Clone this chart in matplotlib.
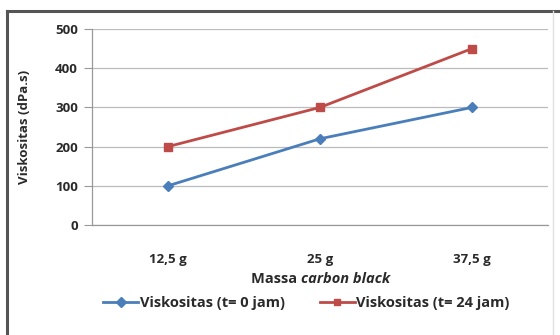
import matplotlib
matplotlib.use("Agg")
import matplotlib.pyplot as plt
from matplotlib.lines import Line2D

categories = ["12,5 g", "25 g", "37,5 g"]
visc_t0 = [100, 220, 300]
visc_t24 = [200, 300, 450]
y_ticks = [0, 100, 200, 300, 400, 500]

plt.rcParams['font.family'] = ['Open Sans', 'DejaVu Sans']

fig = plt.figure(figsize=(5.6, 3.35), dpi=100)
ax = fig.add_axes([92/560, 1-225/335, (548-92)/560, (225-29)/335])

x = list(range(len(categories)))
blue = '#4A7EBB'
red = '#BE4B48'
tc = '#2a2a2a'
ax.plot(x, visc_t0, color=blue, lw=2, marker='D', ms=5.5, label='Viskositas (t= 0 jam)', zorder=3)
ax.plot(x, visc_t24, color=red, lw=2, marker='s', ms=5.5, label='Viskositas (t= 24 jam)', zorder=3)

ax.set_xlim(-0.5, len(categories) - 0.5)
ax.set_ylim(0, 500)
ax.set_yticks(y_ticks)
ax.set_yticklabels([str(v) for v in y_ticks], fontsize=9.5, fontweight='bold', color=tc)
ax.set_xticks(x)
ax.set_xticklabels(categories, fontsize=9.5, fontweight='bold', color=tc)
ax.tick_params(axis='x', length=0, pad=20)
ax.tick_params(axis='y', length=6, color='#999999', width=0.8, pad=4)
ax.grid(axis='y', color='#BBBBBB', lw=0.9)
ax.set_axisbelow(True)
for s in ['top', 'right']:
    ax.spines[s].set_visible(False)
for s in ['left', 'bottom']:
    ax.spines[s].set_color('#999999')
    ax.spines[s].set_linewidth(0.9)

ax.set_ylabel('Viskositas (dPa.s)', fontsize=9.5, fontweight='bold', color=tc)
ax.yaxis.set_label_coords(31/560, 1-127/335, transform=fig.transFigure)
fig.text(0.538, 1-279/335, 'Massa ', fontsize=10.5, fontweight='bold', ha='right', va='center', color=tc)
fig.text(0.538, 1-279/335, 'carbon black', fontsize=10.5, fontweight='bold', style='italic', ha='left', va='center', color=tc)

handles = [Line2D([], [], color=blue, lw=2, marker='D', ms=5),
           Line2D([], [], color=red, lw=2, marker='s', ms=5)]
fig.legend(handles, ['Viskositas (t= 0 jam)', 'Viskositas (t= 24 jam)'], loc='center',
           bbox_to_anchor=(0.547, 1-303/335), ncol=2, frameon=False,
           prop={'weight': 'bold', 'size': 10.5}, handlelength=2.4, columnspacing=2.4, handletextpad=0.1,
           labelcolor=tc)

# outer frame
fig.add_artist(Line2D([7/560, 7/560], [0, 1-11/335], color='#555555', lw=2.2, transform=fig.transFigure))
fig.add_artist(Line2D([7/560, 1], [1-11/335, 1-11/335], color='#555555', lw=2.2, transform=fig.transFigure))
fig.add_artist(Line2D([553/560, 553/560], [0, 1-11/335], color='#E0E0E0', lw=1, transform=fig.transFigure))

fig.savefig('out.png', dpi=100)
